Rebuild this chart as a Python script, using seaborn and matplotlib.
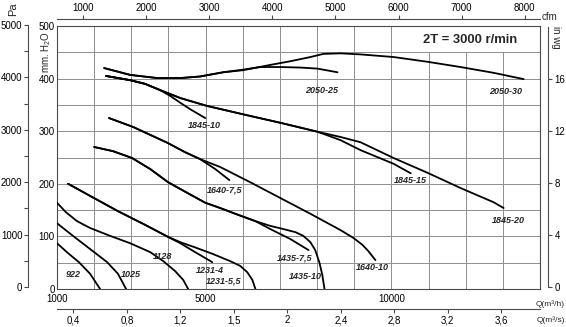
import matplotlib
matplotlib.use("Agg")
import matplotlib.pyplot as plt
import pandas as pd
import seaborn as sns
from matplotlib.patches import Rectangle
from matplotlib.ticker import FixedLocator, MultipleLocator

# Fan curves at 2T = 3000 r/min: air flow Q [m³/h] against static pressure [mm H2O]
q_922 = [1000, 1300, 1590, 1890, 2160]
p_922 = [87, 68, 51, 29, 0]

q_1025 = [1000, 1430, 1890, 2350, 2640, 2860]
p_1025 = [125, 101, 76, 51, 29, 0]

q_1128 = [1000, 1240, 1540, 1890, 2430, 2970, 3510, 3860, 4180, 4400, 4530]
p_1128 = [164, 146, 129, 116, 101, 87, 70, 53, 34, 17, 0]

q_1231_4 = [1300, 1890, 2640, 3370, 3990, 4320, 4720, 5180]
p_1231_4 = [200, 177, 148, 122, 99, 87, 70, 51]

q_1231_55 = [1300, 1890, 2640, 3370, 3990, 4320, 4720, 5180, 5660, 5930, 6120, 6260, 6340]
p_1231_55 = [200, 177, 148, 122, 99, 89, 79, 67, 53, 44, 32, 17, 0]

q_1435_75 = [2000, 2510, 3020, 3510, 3990, 4500, 4990, 5390, 5800, 6340, 6740, 7280, 7770]
p_1435_75 = [270, 262, 249, 228, 203, 183, 164, 154, 143, 129, 114, 95, 74]

q_1435_10 = [2000, 2510, 3020, 3510, 3990, 4500, 4990, 5390, 5800, 6340, 6740,
             7090, 7420, 7630, 7820, 7950, 8060, 8140, 8200]
p_1435_10 = [270, 262, 249, 228, 203, 183, 164, 154, 143, 129, 120,
             114, 108, 101, 89, 74, 51, 27, 0]

q_1640_75 = [2400, 3050, 3510, 3970, 4450, 4850, 5260, 5640]
p_1640_75 = [325, 308, 293, 278, 260, 247, 228, 207]

q_1640_10 = [2400, 3050, 3510, 3970, 4450, 4850, 5390, 6200, 7010, 7820, 8630,
             8980, 9220, 9380, 9570]
p_1640_10 = [325, 308, 293, 278, 260, 247, 232, 203, 173, 143, 112,
             97, 84, 72, 55]

q_1845_10 = [2320, 2970, 3370, 3780, 4050, 4320, 4580, 4990]
p_1845_10 = [405, 397, 390, 378, 367, 354, 342, 325]

q_1845_15 = [2320, 2970, 3370, 3780, 4320, 5040, 6200, 7010, 8010, 8630, 9170, 10060, 10520]
p_1845_15 = [405, 397, 390, 378, 363, 348, 329, 316, 299, 283, 264, 238, 220]

q_1845_20 = [2320, 2970, 3370, 3780, 4320, 5040, 6200, 7010, 8010, 8630, 9170,
             10060, 10970, 11860, 12750, 13020]
p_1845_20 = [405, 397, 390, 378, 363, 348, 329, 316, 299, 289, 279,
             249, 221, 192, 165, 154]

q_2050_25 = [2270, 2970, 3700, 4320, 4850, 5470, 6010, 6470, 7010, 7550, 8010, 8550]
p_2050_25 = [420, 407, 401, 401, 404, 412, 417, 422, 422, 421, 419, 412]

q_2050_30 = [2270, 2970, 3700, 4320, 4850, 5470, 6010, 6740, 7280, 7820, 8170,
             8630, 9170, 10060, 10970, 11860, 12750, 13560]
p_2050_30 = [420, 407, 401, 401, 404, 412, 416, 426, 433, 441, 447,
             448, 446, 441, 432, 422, 411, 399]

# Curve names and where they are written
curve_labels = ["922", "1025", "1128", "1231-4", "1231-5,5", "1435-7,5", "1435-10",
                "1640-7,5", "1640-10", "1845-10", "1845-15", "1845-20",
                "2050-25", "2050-30"]
label_q = [1430, 2980, 3830, 5120, 5490, 7390, 7690, 5520, 9490, 4960, 10500, 13140, 8110, 13080]
label_p = [27, 27, 61, 35, 16, 59, 23, 188, 40, 310, 207, 130, 378, 376]

# Axis ticks
q_ticks = [1000, 5000, 10000]
mm_ticks = [0, 100, 200, 300, 400, 500]
pa_ticks = [0, 1000, 2000, 3000, 4000, 5000]
inwg_ticks = [0, 4, 8, 12, 16]
cfm_ticks = [1000, 2000, 3000, 4000, 5000, 6000, 7000, 8000]
ms_ticks = [0.4, 0.8, 1.2, 1.6, 2.0, 2.4, 2.8, 3.2, 3.6]
ms_labels = ["0,4", "0,8", "1,2", "1,5", "2", "2,4", "2,8", "3,2", "3,6"]

curves = {
    "922": (q_922, p_922),
    "1025": (q_1025, p_1025),
    "1128": (q_1128, p_1128),
    "1231-4": (q_1231_4, p_1231_4),
    "1231-5,5": (q_1231_55, p_1231_55),
    "1435-7,5": (q_1435_75, p_1435_75),
    "1435-10": (q_1435_10, p_1435_10),
    "1640-7,5": (q_1640_75, p_1640_75),
    "1640-10": (q_1640_10, p_1640_10),
    "1845-10": (q_1845_10, p_1845_10),
    "1845-15": (q_1845_15, p_1845_15),
    "1845-20": (q_1845_20, p_1845_20),
    "2050-25": (q_2050_25, p_2050_25),
    "2050-30": (q_2050_30, p_2050_30),
}
df = pd.concat(
    [pd.DataFrame({"Q": q, "p": p, "curve": name}) for name, (q, p) in curves.items()],
    ignore_index=True,
)

sns.set_theme(style="ticks")
plt.rcParams["font.family"] = ["Liberation Sans", "DejaVu Sans"]
plt.rcParams["mathtext.fontset"] = "custom"
plt.rcParams["mathtext.rm"] = "Liberation Sans"
plt.rcParams["mathtext.it"] = "Liberation Sans:italic"
plt.rcParams["mathtext.bf"] = "Liberation Sans:bold"

W, H = 566, 327
fig = plt.figure(figsize=(W / 100, H / 100), dpi=100)
fig.patch.set_facecolor("white")


def px_box(left, top, right, bottom):
    return [left / W, 1 - bottom / H, (right - left) / W, (bottom - top) / H]


def px_pt(x, y):
    return x / W, 1 - y / H


EDGE = "#4a4a4a"
GRID = "#8e8e8e"

ax = fig.add_axes(px_box(57, 26, 540, 289))
sns.lineplot(data=df, x="Q", y="p", units="curve", estimator=None, sort=False,
             color="black", linewidth=1.3, ax=ax, zorder=3)

ax.set_xlim(1000, 14000)
ax.set_ylim(0, 500)
ax.set_xlabel("")
ax.set_ylabel("")
ax.xaxis.set_major_locator(FixedLocator(q_ticks))
ax.xaxis.set_minor_locator(MultipleLocator(1000))
ax.yaxis.set_major_locator(FixedLocator(mm_ticks))
ax.yaxis.set_minor_locator(MultipleLocator(50))
ax.set_axisbelow(True)
ax.grid(True, which="both", color=GRID, linewidth=0.7)
ax.tick_params(axis="both", which="both", length=0, colors="black")
ax.tick_params(axis="x", which="major", labelsize=7, pad=3.5)
ax.tick_params(axis="y", which="major", labelsize=7, pad=1.5)
for s in ax.spines.values():
    s.set_color(EDGE)
    s.set_linewidth(0.8)

# blank panel behind the speed caption
ax.add_patch(Rectangle((0.70, 0.903), 0.30, 0.097, transform=ax.transAxes,
                       facecolor="white", edgecolor="none", zorder=1))
ax.text(0.855, 0.947, "2T = 3000 r/min", transform=ax.transAxes, ha="center",
        va="center", fontsize=9.4, fontweight="bold", zorder=4)

for name, q, p in zip(curve_labels, label_q, label_p):
    ax.text(q, p, name, ha="center", va="center", fontsize=6.5,
            fontweight="bold", fontstyle="italic", zorder=4)

# cfm scale above the chart
ax_cfm = ax.secondary_xaxis(1 + 7 / 263, functions=(lambda q: q / 1.699, lambda c: c * 1.699))
ax_cfm.set_xticks(cfm_ticks)
ax_cfm.tick_params(axis="x", direction="out", length=3, width=0.8, color=EDGE,
                   labelsize=7, pad=1.5, labelcolor="black")
for s in ax_cfm.spines.values():
    s.set_color(EDGE)
    s.set_linewidth(0.8)

# m³/s scale under the chart
ax_ms = ax.secondary_xaxis(-20 / 263, functions=(lambda q: q / 3600, lambda s: s * 3600))
ax_ms.set_xticks(ms_ticks, labels=ms_labels)
ax_ms.tick_params(axis="x", direction="out", length=3, width=0.8, color=EDGE,
                  labelsize=7, pad=1.5, labelcolor="black")
for s in ax_ms.spines.values():
    s.set_color(EDGE)
    s.set_linewidth(0.8)

# Pa scale on the far left
ax_pa = fig.add_axes(px_box(28, 25, 28.5, 287))
ax_pa.patch.set_visible(False)
ax_pa.set_ylim(0, 5000)
ax_pa.set_xticks([])
for side in ["top", "right", "bottom"]:
    ax_pa.spines[side].set_visible(False)
ax_pa.spines["left"].set_color(EDGE)
ax_pa.spines["left"].set_linewidth(0.8)
ax_pa.yaxis.set_major_locator(FixedLocator(pa_ticks))
ax_pa.yaxis.set_minor_locator(MultipleLocator(500))
ax_pa.tick_params(axis="y", which="both", left=True, direction="out", length=3,
                  width=0.8, color=EDGE, labelsize=7, pad=1, labelcolor="black")

# inch water gauge scale on the right
ax_in = fig.add_axes(px_box(547, 27, 547.5, 287))
ax_in.patch.set_visible(False)
ax_in.set_ylim(0, 20)
ax_in.set_xticks([])
for side in ["top", "left", "bottom"]:
    ax_in.spines[side].set_visible(False)
ax_in.spines["right"].set_color(EDGE)
ax_in.spines["right"].set_linewidth(0.8)
ax_in.yaxis.tick_right()
ax_in.set_yticks(inwg_ticks)
ax_in.tick_params(axis="y", which="both", right=True, left=False, direction="out",
                  length=3, width=0.8, color=EDGE, labelsize=7, pad=2, labelcolor="black")

# axis titles
fig.text(*px_pt(13, 9), "Pa", rotation=90, ha="center", va="center", fontsize=8)
fig.text(*px_pt(46, 52), "mm. H$_2$O", rotation=90, ha="center", va="center", fontsize=7)
fig.text(*px_pt(550, 16.5), "cfm", ha="center", va="center", fontsize=7)
fig.text(*px_pt(556, 37.5), "in wg", rotation=270, ha="center", va="center", fontsize=7)
fig.text(*px_pt(550.5, 304), "Q(m³/h)", ha="center", va="center", fontsize=6)
fig.text(*px_pt(550.5, 320), "Q(m³/s)", ha="center", va="center", fontsize=6)

fig.savefig("out.png", dpi=100, facecolor="white")
